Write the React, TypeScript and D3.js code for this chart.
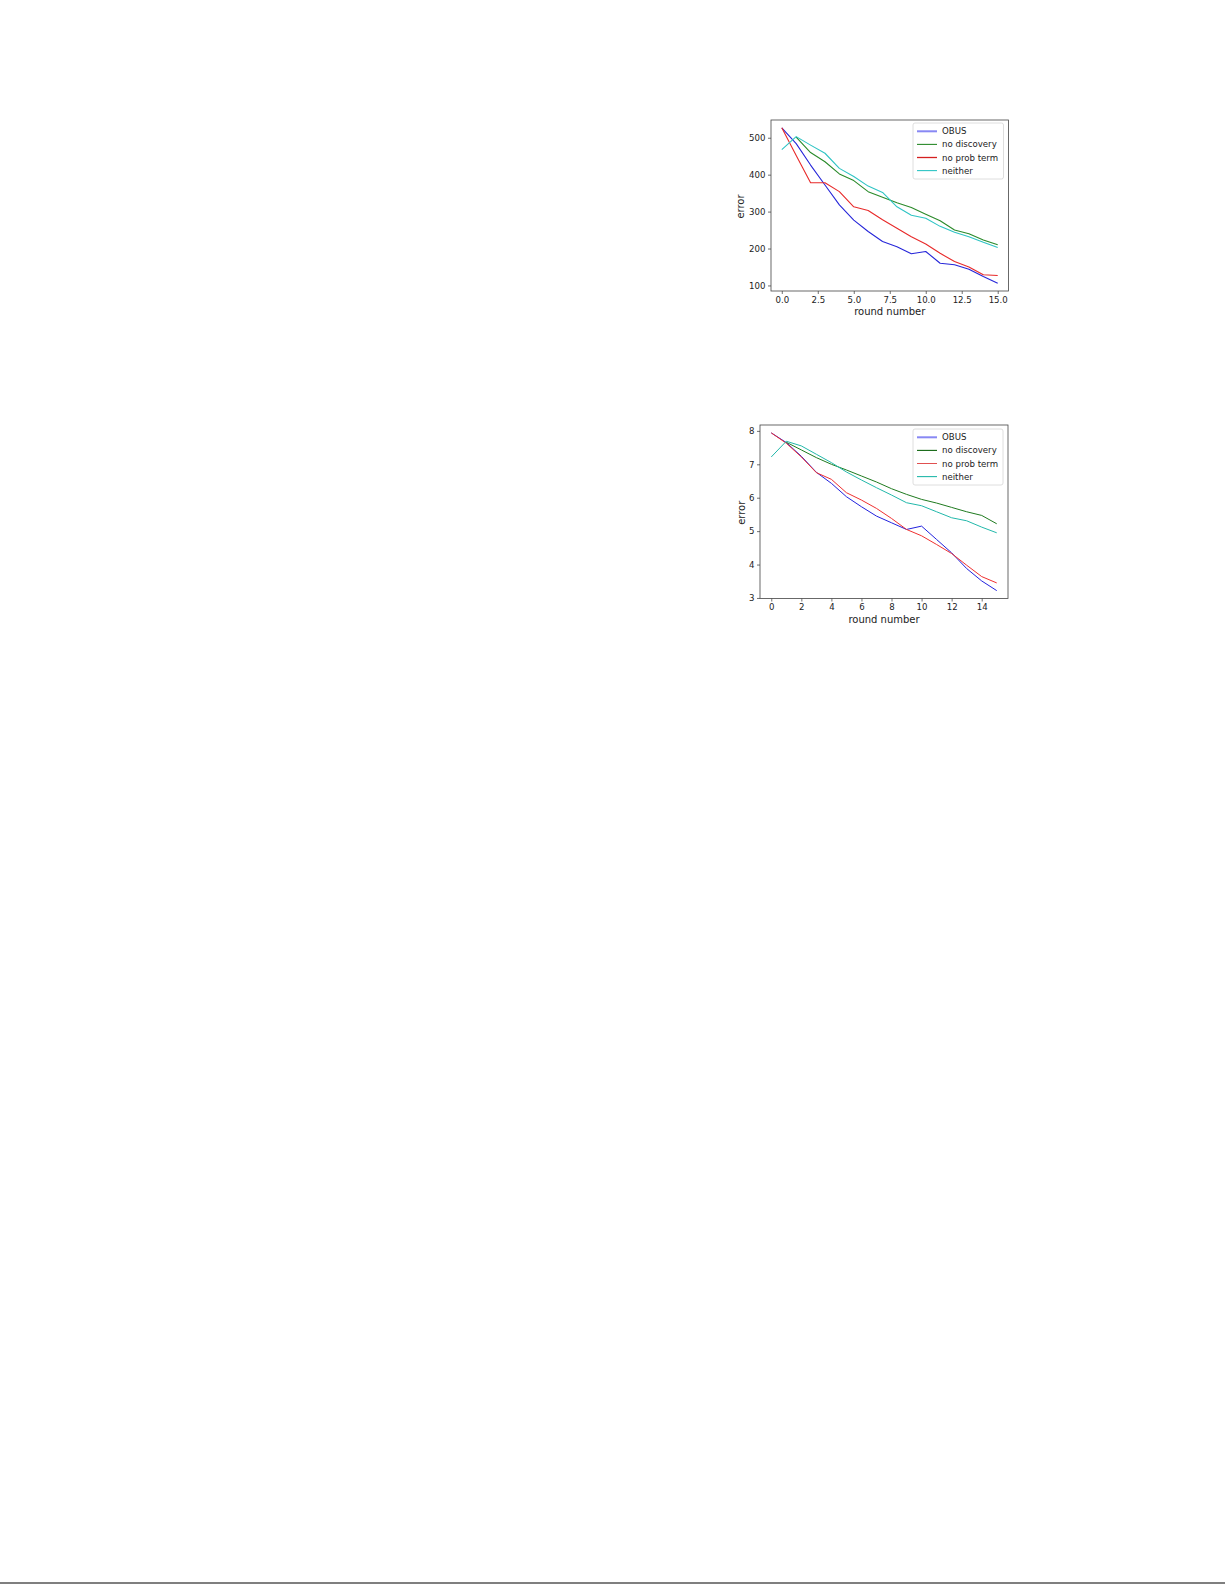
import React, { useEffect, useRef } from 'react';
import * as d3 from 'd3';

// round index on the x axis
const ROUNDS = [0, 1, 2, 3, 4, 5, 6, 7, 8, 9, 10, 11, 12, 13, 14, 15];
// the "no discovery" runs have no round 0 point
const ROUNDS_NO_DISCOVERY = [1, 2, 3, 4, 5, 6, 7, 8, 9, 10, 11, 12, 13, 14, 15];

const SERIES_NAMES = ['OBUS', 'no discovery', 'no prob term', 'neither'];

// top chart
const OBUS_TOP = [527, 484, 426, 372, 318, 277, 246, 219, 205, 186, 192, 160, 156, 144, 124, 106];
const NO_DISCOVERY_TOP = [502, 460, 435, 402, 384, 354, 339, 324, 311, 293, 275, 250, 240, 223, 210];
const NO_PROB_TOP = [527, 452, 378, 378, 354, 313, 303, 278, 255, 232, 212, 187, 165, 150, 129, 127];
const NEITHER_TOP = [468, 503, 480, 458, 417, 395, 369, 352, 313, 290, 282, 260, 244, 232, 217, 203];
const Y_TICKS_TOP = [100, 200, 300, 400, 500];
const X_TICKS_TOP = [0, 2.5, 5, 7.5, 10, 12.5, 15];

// bottom chart
const OBUS_BOTTOM = [7.94, 7.65, 7.24, 6.76, 6.43, 6.03, 5.73, 5.45, 5.25, 5.05, 5.15, 4.75, 4.35, 3.88, 3.51, 3.22];
const NO_DISCOVERY_BOTTOM = [7.66, 7.43, 7.2, 7.0, 6.83, 6.65, 6.47, 6.27, 6.1, 5.95, 5.84, 5.71, 5.58, 5.47, 5.22];
const NO_PROB_BOTTOM = [7.94, 7.63, 7.22, 6.75, 6.55, 6.15, 5.93, 5.68, 5.38, 5.05, 4.86, 4.6, 4.33, 3.98, 3.64, 3.45];
const NEITHER_BOTTOM = [7.22, 7.69, 7.55, 7.3, 7.05, 6.77, 6.53, 6.3, 6.08, 5.85, 5.76, 5.58, 5.4, 5.31, 5.12, 4.95];
const Y_TICKS_BOTTOM = [3, 4, 5, 6, 7, 8];
const X_TICKS_BOTTOM = [0, 2, 4, 6, 8, 10, 12, 14];

const FONT = '"DejaVu Sans", sans-serif';

interface Box { left: number; right: number; top: number; bottom: number; }

interface ChartConfig {
  box: Box;
  series: { xs: number[]; ys: number[]; color: string; width: number }[];
  yTicks: number[];
  xTicks: number[];
  xFormat: (v: number) => string;
  labelX: number;
  legend: { left: number; top: number; width: number; height: number };
  legendHandle: { color: string; width: number; opacity: number }[];
}

const padded = (lo: number, hi: number): [number, number] => {
  const p = (hi - lo) * 0.05;
  return [lo - p, hi + p];
};

function drawChart(svg: d3.Selection<SVGSVGElement, unknown, null, undefined>, cfg: ChartConfig) {
  const { box } = cfg;
  const allX = cfg.series.flatMap(s => s.xs);
  const allY = cfg.series.flatMap(s => s.ys);
  const x = d3.scaleLinear().domain(padded(d3.min(allX)!, d3.max(allX)!)).range([box.left, box.right]);
  const y = d3.scaleLinear().domain(padded(d3.min(allY)!, d3.max(allY)!)).range([box.bottom, box.top]);

  const g = svg.append('g');

  const clipId = `clip-${box.top}`;
  g.append('clipPath').attr('id', clipId)
    .append('rect')
    .attr('x', box.left).attr('y', box.top)
    .attr('width', box.right - box.left).attr('height', box.bottom - box.top);

  const line = d3.line<[number, number]>().x(d => x(d[0])).y(d => y(d[1]));
  cfg.series.forEach(s => {
    g.append('path')
      .datum(s.xs.map((v, i) => [v, s.ys[i]] as [number, number]))
      .attr('clip-path', `url(#${clipId})`)
      .attr('fill', 'none')
      .attr('stroke', s.color)
      .attr('stroke-width', s.width)
      .attr('stroke-linejoin', 'round')
      .attr('d', line);
  });

  const yAxis = g.append('g')
    .attr('transform', `translate(${box.left},0)`)
    .call(d3.axisLeft(y).tickValues(cfg.yTicks).tickSize(3).tickPadding(2.5).tickFormat(d => String(d)));
  const xAxis = g.append('g')
    .attr('transform', `translate(0,${box.bottom})`)
    .call(d3.axisBottom(x).tickValues(cfg.xTicks).tickSize(3).tickPadding(2.5).tickFormat(d => cfg.xFormat(+d)));
  [xAxis, yAxis].forEach(a => {
    a.select('.domain').remove();
    a.selectAll('line').attr('stroke', '#333').attr('stroke-width', 0.7);
    a.selectAll('text').attr('fill', '#222').style('font-family', FONT).style('font-size', '8.6px');
  });

  // frame
  g.append('rect')
    .attr('x', box.left).attr('y', box.top)
    .attr('width', box.right - box.left).attr('height', box.bottom - box.top)
    .attr('fill', 'none').attr('stroke', '#444').attr('stroke-width', 0.8);

  g.append('text')
    .attr('x', cfg.labelX).attr('y', (box.top + box.bottom) / 2 + 1)
    .attr('transform', `rotate(-90, ${cfg.labelX}, ${(box.top + box.bottom) / 2 + 1})`)
    .attr('text-anchor', 'middle').attr('dominant-baseline', 'central')
    .style('font-family', FONT).style('font-size', '10px').attr('fill', '#222')
    .text('error');

  g.append('text')
    .attr('x', (box.left + box.right) / 2).attr('y', box.bottom + 24)
    .attr('text-anchor', 'middle')
    .style('font-family', FONT).style('font-size', '10px').attr('fill', '#222')
    .text('round number');

  // legend
  const lg = g.append('g').attr('transform', `translate(${cfg.legend.left},${cfg.legend.top})`);
  lg.append('rect')
    .attr('width', cfg.legend.width).attr('height', cfg.legend.height)
    .attr('rx', 2).attr('fill', '#fff').attr('stroke', '#d6d6d6').attr('stroke-width', 0.8);
  SERIES_NAMES.forEach((name, i) => {
    const row = 8.3 + i * 13.1;
    const h = cfg.legendHandle[i];
    lg.append('line')
      .attr('x1', 4).attr('x2', 24).attr('y1', row).attr('y2', row)
      .attr('stroke', h.color).attr('stroke-width', h.width).attr('opacity', h.opacity);
    lg.append('text')
      .attr('x', 29).attr('y', row).attr('dominant-baseline', 'central')
      .style('font-family', FONT).style('font-size', '8.6px').attr('fill', '#222')
      .text(name);
  });
}

export default function App() {
  const svgRef = useRef<SVGSVGElement | null>(null);

  useEffect(() => {
    if (!svgRef.current) return;
    const svg = d3.select(svgRef.current);
    svg.selectAll('*').remove();

    drawChart(svg, {
      box: { left: 771, right: 1008.5, top: 120, bottom: 291 },
      series: [
        { xs: ROUNDS, ys: OBUS_TOP, color: '#2626d9', width: 1.1 },
        { xs: ROUNDS_NO_DISCOVERY, ys: NO_DISCOVERY_TOP, color: '#2a8a2a', width: 1.1 },
        { xs: ROUNDS, ys: NO_PROB_TOP, color: '#e82a2a', width: 1.1 },
        { xs: ROUNDS, ys: NEITHER_TOP, color: '#2ec4c4', width: 1.1 },
      ],
      yTicks: Y_TICKS_TOP,
      xTicks: X_TICKS_TOP,
      xFormat: v => v.toFixed(1),
      labelX: 740.7,
      legend: { left: 913, top: 123, width: 90.5, height: 56 },
      legendHandle: [
        { color: '#3a3aee', width: 2, opacity: 0.6 },
        { color: '#2a8a2a', width: 1.1, opacity: 1 },
        { color: '#d42020', width: 1.3, opacity: 1 },
        { color: '#2ec4c4', width: 1.1, opacity: 1 },
      ],
    });

    drawChart(svg, {
      box: { left: 760, right: 1008, top: 425, bottom: 598.5 },
      series: [
        { xs: ROUNDS, ys: OBUS_BOTTOM, color: '#2222dd', width: 1 },
        { xs: ROUNDS_NO_DISCOVERY, ys: NO_DISCOVERY_BOTTOM, color: '#1f7a1f', width: 1 },
        { xs: ROUNDS, ys: NO_PROB_BOTTOM, color: '#ee3030', width: 1 },
        { xs: ROUNDS, ys: NEITHER_BOTTOM, color: '#22b8aa', width: 1 },
      ],
      yTicks: Y_TICKS_BOTTOM,
      xTicks: X_TICKS_BOTTOM,
      xFormat: v => String(v),
      labelX: 741.7,
      legend: { left: 913, top: 429, width: 90, height: 56 },
      legendHandle: [
        { color: '#3a3aee', width: 2, opacity: 0.6 },
        { color: '#116611', width: 1.1, opacity: 1 },
        { color: '#e05050', width: 1, opacity: 1 },
        { color: '#22b8aa', width: 1.1, opacity: 1 },
      ],
    });

    // page rule at the bottom
    svg.append('line')
      .attr('x1', 0).attr('x2', 1225).attr('y1', 1583).attr('y2', 1583)
      .attr('stroke', '#000').attr('stroke-width', 1.2);
  }, []);

  return (
    <svg
      ref={svgRef}
      width={1225}
      height={1585}
      style={{ position: 'absolute', left: 0, top: 0, background: '#fff' }}
    />
  );
}
